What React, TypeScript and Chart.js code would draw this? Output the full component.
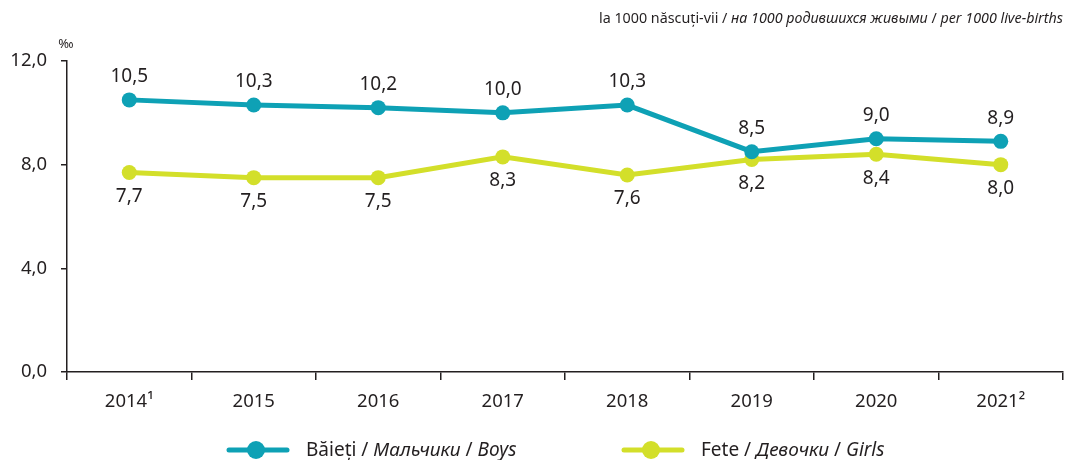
import React, { useEffect, useRef } from "react";
import { Chart, registerables } from "chart.js";

Chart.register(...registerables);

const categories = ["2014¹", "2015", "2016", "2017", "2018", "2019", "2020", "2021²"];
const boys = [10.5, 10.3, 10.2, 10.0, 10.3, 8.5, 9.0, 8.9];
const girls = [7.7, 7.5, 7.5, 8.3, 7.6, 8.2, 8.4, 8.0];
const yTicks = [0, 4, 8, 12];

const BOYS_COLOR = "#0ea1b5";
const GIRLS_COLOR = "#d3df2a";
const TEXT_COLOR = "#231f20";
const FONT = "'Noto Sans', 'Open Sans', sans-serif";

const fmt = (v: number) => v.toFixed(1).replace(".", ",");

const labelsPlugin = {
  id: "customLabels",
  afterDatasetsDraw(chart: any) {
    const ctx = chart.ctx;
    ctx.save();
    ctx.fillStyle = TEXT_COLOR;
    ctx.font = `19px ${FONT}`;
    ctx.textAlign = "center";
    ctx.textBaseline = "middle";
    chart.data.datasets.forEach((ds: any, di: number) => {
      const meta = chart.getDatasetMeta(di);
      meta.data.forEach((pt: any, i: number) => {
        const off = di === 0 ? -23 : 24;
        ctx.fillText(fmt(ds.data[i]), pt.x, pt.y + off);
      });
    });
    ctx.restore();
  },
  afterDraw(chart: any) {
    const ctx = chart.ctx;
    ctx.save();
    // unit
    ctx.fillStyle = TEXT_COLOR;
    ctx.font = `13px ${FONT}`;
    ctx.textAlign = "center";
    ctx.textBaseline = "middle";
    ctx.fillText("‰", 66, 44);
    // top-right note
    const parts: [string, boolean][] = [
      ["la 1000 născuți-vii / ", false],
      ["на 1000 родившихся живыми", true],
      [" / ", false],
      ["per 1000 live-births", true],
    ];
    const sz = 14.3;
    let total = 0;
    parts.forEach(([t, it]) => {
      ctx.font = `${it ? "italic " : ""}${sz}px ${FONT}`;
      total += ctx.measureText(t).width;
    });
    let x = 1063 - total;
    ctx.textAlign = "left";
    parts.forEach(([t, it]) => {
      ctx.font = `${it ? "italic " : ""}${sz}px ${FONT}`;
      ctx.fillText(t, x, 19);
      x += ctx.measureText(t).width;
    });
    // legend
    const drawItem = (x0: number, color: string, segs: [string, boolean][]) => {
      const y = 450;
      ctx.strokeStyle = color;
      ctx.lineWidth = 5;
      ctx.lineCap = "round";
      ctx.beginPath();
      ctx.moveTo(x0, y);
      ctx.lineTo(x0 + 58, y);
      ctx.stroke();
      ctx.fillStyle = color;
      ctx.beginPath();
      ctx.arc(x0 + 27, y, 9, 0, Math.PI * 2);
      ctx.fill();
      ctx.fillStyle = TEXT_COLOR;
      let tx = x0 + 77;
      segs.forEach(([t, it]) => {
        ctx.font = `${it ? "italic " : ""}19px ${FONT}`;
        ctx.fillText(t, tx, y + 1);
        tx += ctx.measureText(t).width;
      });
    };
    ctx.textBaseline = "middle";
    drawItem(229, BOYS_COLOR, [["Băieți / ", false], ["Мальчики", true], [" / ", false], ["Boys", true]]);
    drawItem(624, GIRLS_COLOR, [["Fete / ", false], ["Девочки", true], [" / ", false], ["Girls", true]]);
    ctx.restore();
  },
};

export default function App() {
  const ref = useRef<HTMLCanvasElement>(null);
  useEffect(() => {
    document.body.style.margin = "0";
    const chart = new Chart(ref.current!, {
      type: "line",
      data: {
        labels: categories,
        datasets: [
          {
            label: "Băieți / Мальчики / Boys",
            data: boys,
            borderColor: BOYS_COLOR,
            backgroundColor: BOYS_COLOR,
            borderWidth: 5,
            pointRadius: 7.5,
            pointHoverRadius: 7.5,
            pointBorderWidth: 0,
            tension: 0,
          },
          {
            label: "Fete / Девочки / Girls",
            data: girls,
            borderColor: GIRLS_COLOR,
            backgroundColor: GIRLS_COLOR,
            borderWidth: 5,
            pointRadius: 7.5,
            pointHoverRadius: 7.5,
            pointBorderWidth: 0,
            tension: 0,
          },
        ],
      },
      options: {
        responsive: false,
        animation: false,
        layout: { padding: { top: 61, right: 8, left: 0, bottom: 0 } },
        plugins: { legend: { display: false }, tooltip: { enabled: false } },
        scales: {
          x: {
            offset: true,
            grid: {
              offset: true,
              drawOnChartArea: false,
              drawTicks: true,
              tickLength: 8,
              color: TEXT_COLOR,
              lineWidth: 1.5,
            },
            border: { color: TEXT_COLOR, width: 1.5 },
            ticks: {
              color: TEXT_COLOR,
              font: { size: 18.5, family: FONT },
              padding: 11,
              maxRotation: 0,
            },
            afterFit(scale: any) {
              scale.height = 88;
            },
          },
          y: {
            min: 0,
            max: 12,
            afterBuildTicks(scale: any) {
              scale.ticks = yTicks.map((v) => ({ value: v }));
            },
            grid: {
              drawOnChartArea: false,
              drawTicks: true,
              tickLength: 6,
              color: TEXT_COLOR,
              lineWidth: 1.5,
            },
            border: { color: TEXT_COLOR, width: 1.5 },
            ticks: {
              color: TEXT_COLOR,
              font: { size: 18.5, family: FONT },
              padding: 14,
              callback: (v: any) => fmt(Number(v)),
            },
            afterFit(scale: any) {
              scale.width = 67;
            },
          },
        },
      },
      plugins: [labelsPlugin],
    });
    return () => chart.destroy();
  }, []);
  return <canvas ref={ref} width={1071} height={460} style={{ display: "block" }} />;
}
